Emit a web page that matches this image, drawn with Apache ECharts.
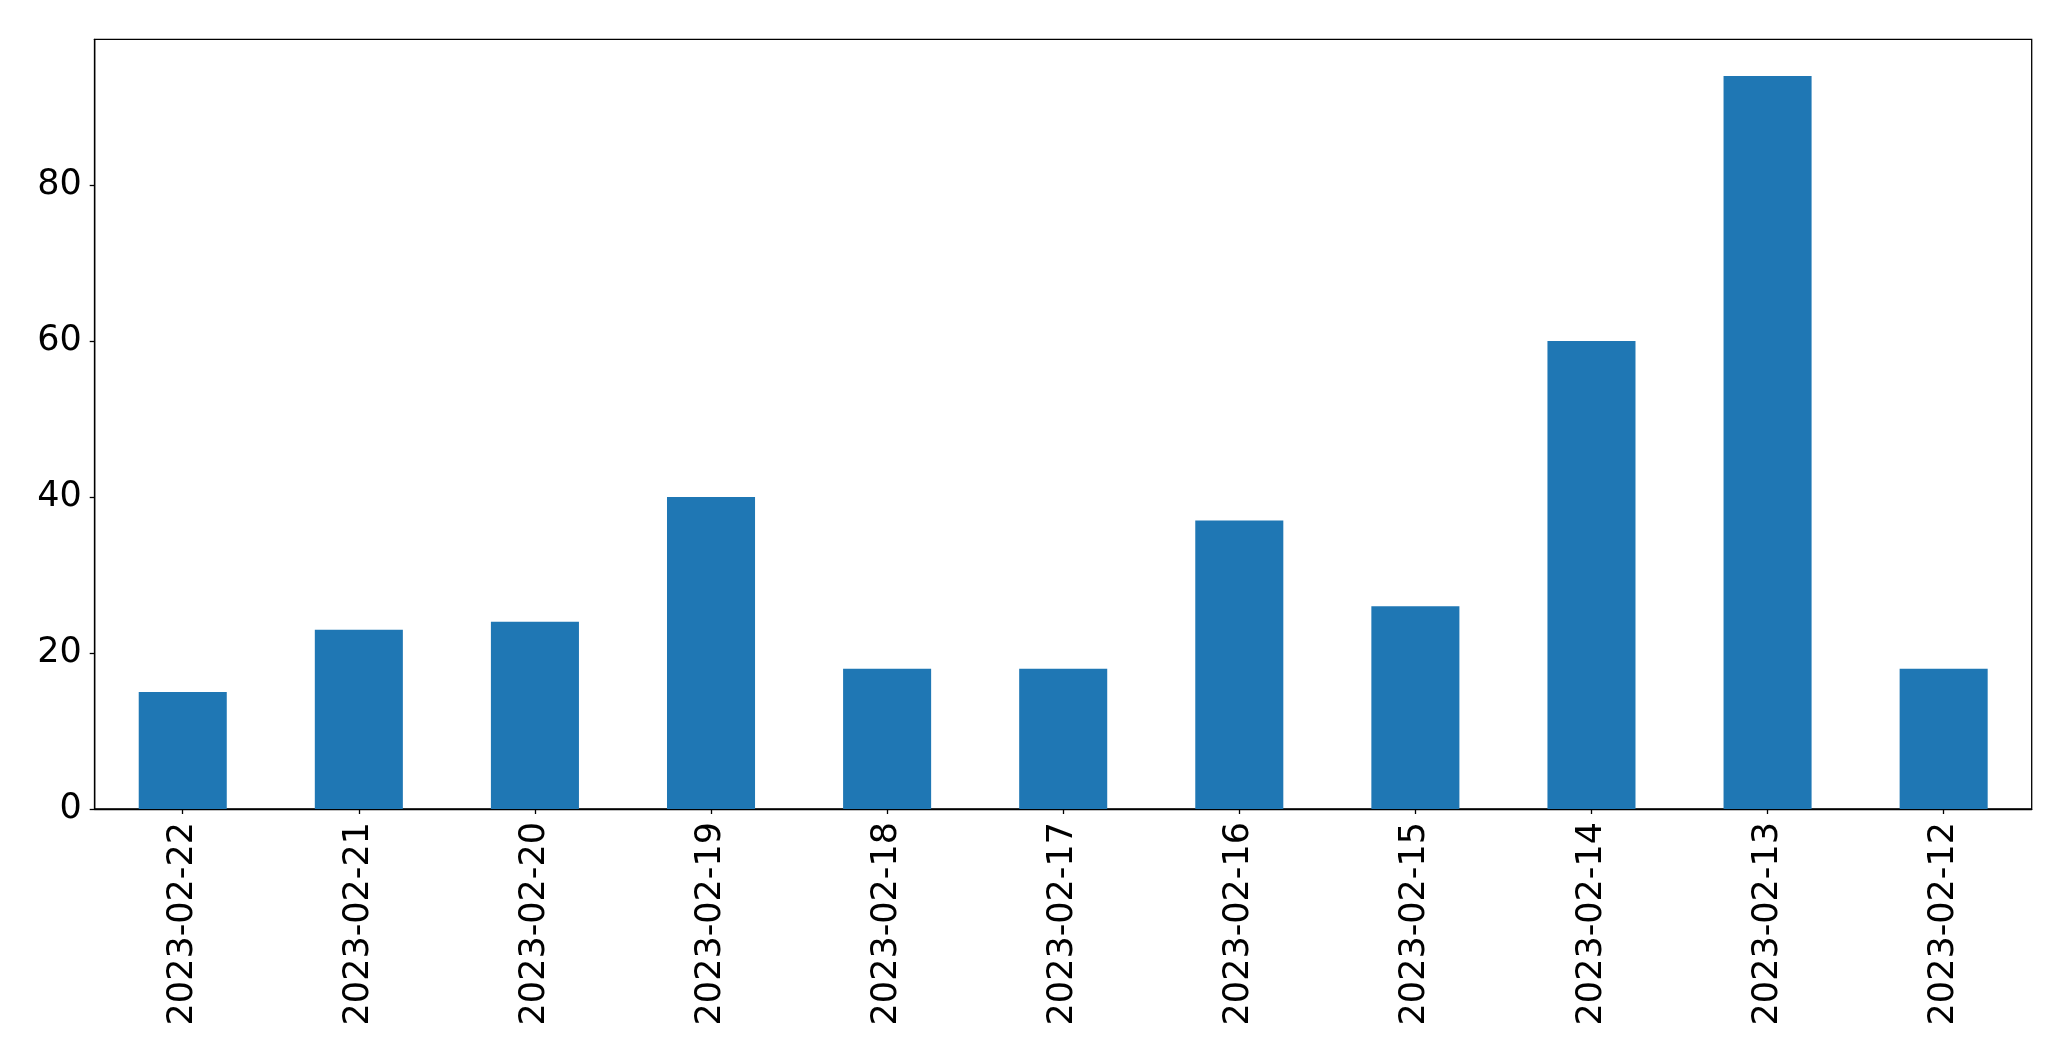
<!DOCTYPE html>
<html>
<head>
<meta charset="utf-8">
<script src="https://cdn.jsdelivr.net/npm/echarts@6/dist/echarts.min.js"></script>
<style>
html,body{margin:0;padding:0;background:#fff;}
#chart{width:2071px;height:1061px;}
</style>
</head>
<body>
<div id="chart"></div>
<script>
const categories = ["2023-02-22","2023-02-21","2023-02-20","2023-02-19","2023-02-18","2023-02-17","2023-02-16","2023-02-15","2023-02-14","2023-02-13","2023-02-12"];
const values = [15, 23, 24, 40, 18, 18, 37, 26, 60, 94, 18];
const yTicks = [0, 20, 40, 60, 80];

const chart = echarts.init(document.getElementById('chart'), null, {renderer: 'canvas'});
const FONT = 'DejaVu Sans';
const FS = 35;
chart.setOption({
  animation: false,
  backgroundColor: '#ffffff',
  grid: {
    left: 94.7, top: 39.3, right: 39.3, bottom: 252,
    show: true, borderColor: '#000', borderWidth: 1.3, backgroundColor: 'transparent'
  },
  xAxis: {
    type: 'category',
    data: categories,
    boundaryGap: true,
    axisLine: {show: true, lineStyle: {color: '#000', width: 1.3}},
    axisTick: {show: true, alignWithLabel: true, length: 5, lineStyle: {color: '#000', width: 1.3}},
    axisLabel: {
      rotate: 90, margin: 13, color: '#000', fontFamily: FONT, fontSize: FS, interval: 0
    },
    splitLine: {show: false}
  },
  yAxis: {
    type: 'value',
    min: 0,
    max: 98.7,
    interval: 20,
    axisLine: {show: true, lineStyle: {color: '#000', width: 1.3}},
    axisTick: {show: true, length: 5, lineStyle: {color: '#000', width: 1.3}},
    axisLabel: {
      color: '#000', fontFamily: FONT, fontSize: FS, margin: 13, showMaxLabel: false,
      padding: [4, 0, 0, 0],
      formatter: function (v) { return yTicks.indexOf(v) >= 0 ? String(v) : ''; }
    },
    splitLine: {show: false}
  },
  series: [{
    type: 'bar',
    data: values,
    barWidth: '50%',
    itemStyle: {color: '#1f77b4'}
  }]
});
</script>
</body>
</html>
